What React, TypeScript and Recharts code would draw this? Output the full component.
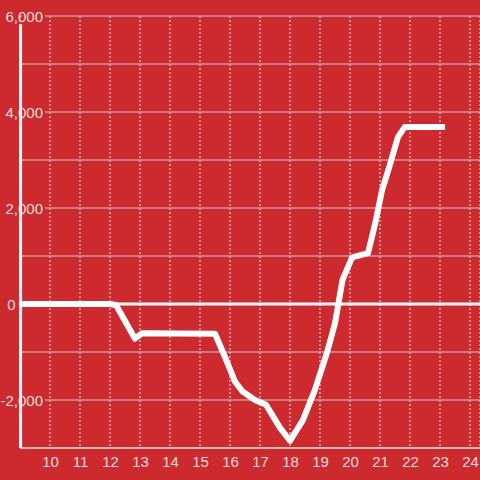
import { LineChart, Line, XAxis, YAxis, CartesianGrid, ReferenceLine } from "recharts"

const RED = "#cd2a2f"
const LABEL = "#f6dcdc"
const FONT = "'Liberation Sans', Arial, sans-serif"

// hour of day
const hours = [
  9, 12.0, 12.2, 12.83, 13.07, 15.5, 15.83, 16.17, 16.43, 16.83, 17.2, 17.67, 18.0, 18.43, 18.83,
  19.23, 19.5, 19.75, 20.07, 20.6, 20.83, 21.07, 21.33, 21.6, 21.83, 23.17,
]
const values = [
  0, 0, -20, -720, -610, -620, -1100, -1620, -1830, -2000, -2100, -2580, -2850, -2420, -1790,
  -1020, -400, 500, 970, 1060, 1650, 2375, 2900, 3480, 3690, 3690,
]

const xTicks = [10, 11, 12, 13, 14, 15, 16, 17, 18, 19, 20, 21, 22, 23, 24]
const yTicks = [-3000, -2000, -1000, 0, 1000, 2000, 3000, 4000, 5000, 6000]
const yLabeled = [-2000, 0, 2000, 4000, 6000]

const data = hours.map((h, i) => ({ h, v: values[i] }))

function YTick(props: any) {
  const v = props.payload.value
  if (!yLabeled.includes(v)) return <g />
  const y = props.y
  const right = v === 0 ? 15.5 : 43
  return (
    <g>
      {v !== 0 && <rect x={22} y={y - 2} width={23} height={4} fill={RED} />}
      <text
        x={right}
        y={y}
        textAnchor="end"
        dominantBaseline="central"
        fill={LABEL}
        fontSize={15}
        fontFamily={FONT}
      >
        {v.toLocaleString("en-US")}
      </text>
    </g>
  )
}

function XTick(props: any) {
  return (
    <text
      x={props.x + 0.5}
      y={461}
      textAnchor="middle"
      dominantBaseline="central"
      fill={LABEL}
      fontSize={15}
      fontFamily={FONT}
    >
      {props.payload.value}
    </text>
  )
}

export default function App() {
  return (
    <div style={{ position: "absolute", left: 0, top: 0, width: 480, height: 480, background: RED }}>
      <LineChart width={480} height={480} data={data} margin={{ top: 16, right: 0, bottom: 0, left: 0 }}>
        <CartesianGrid vertical={false} stroke="#cfcfcf" strokeWidth={1} />
        <CartesianGrid horizontal={false} stroke="#e8e8e8" strokeDasharray="2 2" strokeWidth={1} />
        <XAxis
          dataKey="h"
          type="number"
          domain={[9, 24.3333]}
          ticks={xTicks}
          allowDataOverflow
          height={32}
          tickLine={false}
          axisLine={{ stroke: "#cfcfcf", strokeWidth: 1.5 }}
          tick={<XTick />}
        />
        <YAxis
          type="number"
          domain={[-3000, 6000]}
          ticks={yTicks}
          allowDataOverflow
          width={20}
          tickLine={false}
          axisLine={false}
          tick={<YTick />}
        />
        {/* y axis line, starts a little below the top gridline */}
        <ReferenceLine
          segment={[
            { x: 9.02, y: -3000 },
            { x: 9.02, y: 5830 },
          ]}
          stroke="#f4f4f4"
          strokeWidth={3}
        />
        <ReferenceLine y={0} stroke="#ffffff" strokeWidth={3} />
        <Line
          type="linear"
          dataKey="v"
          stroke="#ffffff"
          strokeWidth={6}
          dot={false}
          strokeLinejoin="round"
          isAnimationActive={false}
        />
      </LineChart>
    </div>
  )
}
